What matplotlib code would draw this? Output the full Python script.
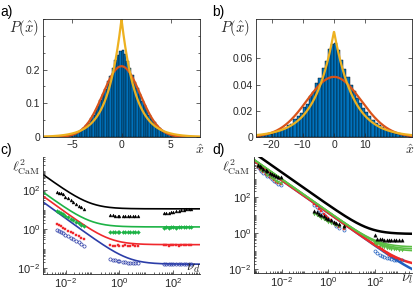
import matplotlib
matplotlib.use('Agg')
import matplotlib.pyplot as plt
import matplotlib.ticker as mticker
import numpy as np

plt.rcParams['font.family'] = ['Liberation Sans', 'DejaVu Sans']
plt.rcParams['mathtext.fontset'] = 'cm'

W, H = 415, 293

# a) histogram of x-hat, bin width 0.25, positive half (mirrored with small asymmetry)
hist_a_right = [0.258, 0.246, 0.226, 0.204, 0.184, 0.163, 0.146, 0.127, 0.108, 0.094, 0.079, 0.066,
                0.054, 0.044, 0.035, 0.028, 0.021, 0.016, 0.012, 0.009, 0.006, 0.004, 0.003, 0.002]
hist_a_left = [0.256, 0.243, 0.228, 0.206, 0.182, 0.166, 0.143, 0.129, 0.111, 0.092, 0.081, 0.064,
               0.056, 0.043, 0.036, 0.027, 0.022, 0.015, 0.012, 0.008, 0.006, 0.004, 0.002, 0.002]
sigma_a = 1.9     # gaussian fit
b_a = 1.43        # laplace fit

# b) histogram, bin width 1
hist_b_right = [0.072, 0.066, 0.059, 0.052, 0.046, 0.040, 0.035, 0.030, 0.026, 0.022, 0.019, 0.016,
                0.013, 0.011, 0.009, 0.0075, 0.006, 0.005, 0.004, 0.003, 0.0025, 0.002, 0.0015, 0.001, 0.0008]
hist_b_left = [0.071, 0.067, 0.058, 0.053, 0.045, 0.041, 0.034, 0.031, 0.025, 0.023, 0.018, 0.016,
               0.014, 0.010, 0.009, 0.007, 0.006, 0.005, 0.004, 0.003, 0.0025, 0.002, 0.0015, 0.001, 0.0008]
sigma_b = 8.7
b_b = 6.2

# c) l^2 vs nu_d, three clusters of points
nu_c = [0.0045, 0.0055, 0.0065, 0.008, 0.0095, 0.012, 0.015, 0.019, 0.024, 0.03, 0.038, 0.047,
        0.45, 0.55, 0.7, 0.85, 1.0, 1.3, 1.6, 2.0, 2.5, 3.1, 3.9, 4.8,
        45, 55, 70, 85, 100, 130, 160, 200, 250, 310, 390, 480]
c_black = [80, 74, 68, 60, 47, 38, 31, 25, 20, 16, 13, 11,
           5.5, 5.2, 5.0, 5.0, 4.8, 4.8, 4.9, 4.7, 4.8, 4.6, 4.7, 4.6,
           6.5, 6.8, 7.0, 7.5, 8.0, 8.5, 9.0, 9.5, 10, 10.5, 11, 11]
c_green = [9, 8, 7, 6, 5, 4.2, 3.5, 2.9, 2.4, 2.0, 1.7, 1.4,
           0.75, 0.72, 0.7, 0.72, 0.7, 0.7, 0.72, 0.7, 0.71, 0.7, 0.72, 0.7,
           1.2, 1.25, 1.2, 1.3, 1.25, 1.2, 1.3, 1.25, 1.3, 1.25, 1.3, 1.3]
c_red = [1.8, 1.6, 1.4, 1.2, 1.0, 0.85, 0.7, 0.6, 0.5, 0.42, 0.35, 0.3,
         0.15, 0.14, 0.14, 0.15, 0.14, 0.14, 0.15, 0.14, 0.14, 0.15, 0.14, 0.14,
         0.15, 0.15, 0.14, 0.15, 0.15, 0.15, 0.14, 0.15, 0.15, 0.15, 0.15, 0.15]
c_blue = [0.9, 0.8, 0.7, 0.6, 0.5, 0.42, 0.35, 0.3, 0.25, 0.21, 0.17, 0.14,
          0.028, 0.026, 0.025, 0.023, 0.022, 0.021, 0.02, 0.019, 0.019, 0.018, 0.018, 0.018,
          0.016, 0.016, 0.017, 0.016, 0.016, 0.016, 0.016, 0.017, 0.016, 0.016, 0.016, 0.016]
# fitted curves l^2 = A/nu + C
c_fit_A = {'black': 0.88, 'green': 0.11, 'red': 0.07, 'blue': 0.035}
c_fit_C = {'black': 11, 'green': 1.3, 'red': 0.16, 'blue': 0.016}

# d) l^2 vs nu_l
nu_d = [0.0009, 0.0011, 0.0013, 0.0016, 0.002, 0.0024, 0.003, 0.0037, 0.0045, 0.0056, 0.007, 0.009,
        0.25, 0.32, 0.4, 0.5, 0.65, 0.8, 1.0, 1.3, 1.7, 2.2, 3.0, 4.5,
        100, 125, 160, 200, 250, 320, 400, 500, 650, 850, 1100, 1500]
d_black = [5900, 5000, 4300, 3600, 3000, 2600, 2200, 1900, 1600, 1400, 1250, 1200,
           17, 14, 12, 10, 8.5, 7, 6, 5, 4.2, 3.6, 3.0, 2.6,
           0.75, 0.5, 0.45, 0.45, 0.42, 0.42, 0.41, 0.4, 0.4, 0.4, 0.4, 0.4]
d_red = [4500, 3600, 3000, 2400, 1900, 1600, 1300, 1050, 850, 700, 580, 490,
         40, 30, 22, 16, 12, 9, 7, 5, 3.8, 2.9, 2.2, 1.7,
         0.28, 0.22, 0.17, 0.13, 0.1, 0.08, 0.065, 0.055, 0.047, 0.04, 0.036, 0.035]
d_green = [5000, 4000, 3200, 2600, 2100, 1700, 1400, 1150, 950, 800, 650, 550,
           12, 10, 8.5, 7, 6, 5, 4.3, 3.7, 3.2, 2.8, 2.5, 2.3,
           0.3, 0.26, 0.22, 0.2, 0.18, 0.16, 0.15, 0.14, 0.13, 0.125, 0.12, 0.115]
d_blue = [4200, 3400, 2800, 2200, 1800, 1500, 1200, 1000, 800, 650, 540, 460,
          35, 26, 19, 14, 10, 8, 6, 4.5, 3.4, 2.6, 2.0, 1.5,
          0.1, 0.08, 0.065, 0.055, 0.048, 0.043, 0.04, 0.037, 0.035, 0.033, 0.032, 0.031]
d_fit_p = 0.9
d_fit_A = {'black': 35, 'green': 15, 'red': 13, 'blue': 13}
d_fit_C = {'black': 0.9, 'green': [0.1, 0.13, 0.17], 'red': 0.015, 'blue': 0.003}

blue_m = '#0072BD'
orange = '#D95319'
yellow = '#EDB120'
axcol = '#262626'


def px_axes(l, t, r, b):
    return fig.add_axes([l / W, 1 - b / H, (r - l) / W, (b - t) / H])


def ftext(x, y, s, **kw):
    fig.text(x / W, 1 - y / H, s, **kw)


def style(ax, fs):
    ax.tick_params(which='both', direction='in', color=axcol, labelcolor=axcol,
                   labelsize=fs, width=0.5, pad=2)
    ax.tick_params(which='major', length=3)
    ax.tick_params(which='minor', length=1.5)
    for s in ax.spines.values():
        s.set_color(axcol)
        s.set_linewidth(0.6)


fig = plt.figure(figsize=(W / 100, H / 100), dpi=100)

# ---- a)
ax = px_axes(43, 19, 200, 137)
na = len(hist_a_right)
xa = (np.arange(-na, na) + 0.5) * 0.25
ha = hist_a_left[::-1] + hist_a_right
ax.bar(xa, ha, width=0.25, color=blue_m, edgecolor='k', linewidth=0.3)
xx = np.linspace(-8, 8, 600)
ax.plot(xx, np.exp(-xx ** 2 / (2 * sigma_a ** 2)) / (sigma_a * np.sqrt(2 * np.pi)), color=orange, lw=1.6)
ax.plot(xx, np.exp(-np.abs(xx) / b_a) / (2 * b_a), color=yellow, lw=1.6)
ax.set_xlim(-8, 8)
ax.set_ylim(0, 0.35)
ax.set_xticks([-5, 0, 5])
ax.set_yticks([0, 0.1, 0.2])
ax.set_yticklabels(['0', '0.1', '0.2'])
ax.yaxis.set_minor_locator(mticker.MultipleLocator(0.05))
ax.tick_params(top=True, right=True, which='both')
style(ax, 7.5)
ftext(0, 12, 'a)', fontsize=10, va='center')
ftext(24, 28, r'$P(\hat{x})$', fontsize=10.5, ha='center', va='center', color=axcol)
ftext(200, 150, r'$\hat{x}$', fontsize=10, ha='center', va='center', color=axcol)

# ---- b)
ax = px_axes(256, 19, 412, 137)
nb = len(hist_b_right)
xb = np.arange(-nb, nb) + 0.5
hb = hist_b_left[::-1] + hist_b_right
ax.bar(xb, hb, width=1.0, color=blue_m, edgecolor='k', linewidth=0.3)
xx = np.linspace(-25, 25, 600)
ax.plot(xx, np.exp(-xx ** 2 / (2 * sigma_b ** 2)) / (sigma_b * np.sqrt(2 * np.pi)), color=orange, lw=1.6)
ax.plot(xx, np.exp(-np.abs(xx) / b_b) / (2 * b_b), color=yellow, lw=1.6)
ax.set_xlim(-25, 25)
ax.set_ylim(0, 0.09)
ax.set_xticks([-20, -10, 0, 10])
ax.set_yticks([0, 0.02, 0.04, 0.06])
ax.set_yticklabels(['0', '0.02', '0.04', '0.06'])
ax.tick_params(top=True, right=True)
style(ax, 7.5)
ftext(212, 12, 'b)', fontsize=10, va='center')
ftext(235, 28, r'$P(\hat{x})$', fontsize=10.5, ha='center', va='center', color=axcol)
ftext(410, 150, r'$\hat{x}$', fontsize=10, ha='center', va='center', color=axcol)


def loglog_style(ax):
    ax.set_xscale('log')
    ax.set_yscale('log')
    ax.xaxis.set_major_locator(mticker.FixedLocator([1e-2, 1, 1e2]))
    ax.yaxis.set_major_locator(mticker.FixedLocator([1e-2, 1, 1e2]))
    ax.xaxis.set_minor_locator(mticker.LogLocator(subs=np.arange(2, 10), numticks=30))
    ax.yaxis.set_minor_locator(mticker.LogLocator(subs=np.arange(1, 10), numticks=30))
    ax.xaxis.set_minor_formatter(mticker.NullFormatter())
    ax.yaxis.set_minor_formatter(mticker.NullFormatter())
    ax.spines['top'].set_visible(False)
    ax.spines['right'].set_visible(False)
    style(ax, 8)
    ax.tick_params(axis='x', pad=1.5)


# ---- c)
ax = px_axes(43, 157, 200, 274)
nn = np.logspace(-3, 3, 400)
ccols = {'black': 'k', 'green': '#1DB346', 'red': '#F0282D', 'blue': '#2B3DA8'}
for k in ['black', 'green', 'red', 'blue']:
    ax.plot(nn, c_fit_A[k] / nn + c_fit_C[k], color=ccols[k], lw=1.2)
ax.plot(nu_c, c_black, '^', color='k', ms=2.1, mew=0.3)
ax.plot(nu_c, c_green, 'D', color=ccols['green'], ms=1.9, mew=0.3)
ax.plot(nu_c, c_red, 's', color=ccols['red'], ms=1.9, mew=0.3)
ax.plot(nu_c, c_blue, 'o', mfc='none', mec=ccols['blue'], ms=2.3, mew=0.5)
ax.set_xlim(10 ** -2.85, 1e3)
ax.set_ylim(10 ** -2.3, 10 ** 3.7)
loglog_style(ax)
ftext(0, 150, 'c)', fontsize=10, va='center')
ftext(26, 167, r'$\ell^2_{\rm CaM}$', fontsize=10, ha='center', va='center', color=axcol)
ftext(193, 268, r'$\nu_d$', fontsize=10.5, ha='center', va='center', color=axcol)

# ---- d)
ax = px_axes(254, 157, 412, 273)
nn = np.logspace(-3.3, 3.7, 400)
dcols = {'black': 'k', 'green': '#5CBF45', 'red': '#EE2A2A', 'blue': '#2060C0'}
ax.plot(nn, d_fit_A['blue'] / nn ** d_fit_p + d_fit_C['blue'], color=dcols['blue'], lw=1.8)
ax.plot(nn, d_fit_A['red'] / nn ** d_fit_p + d_fit_C['red'], color=dcols['red'], lw=1.8)
ax.plot(nu_d, d_blue, 'o', mfc='none', mec=dcols['blue'], ms=2.2, mew=0.5)
ax.plot(nu_d, d_red, 's', color=dcols['red'], ms=2.0, mew=0.3)
for cg in d_fit_C['green']:
    ax.plot(nn, d_fit_A['green'] / nn ** d_fit_p + cg, color=dcols['green'], lw=1.2)
ax.plot(nu_d, d_green, 'v', color=dcols['green'], ms=2.2, mew=0.3)
ax.plot(nn, d_fit_A['black'] / nn ** d_fit_p + d_fit_C['black'], color='k', lw=1.8)
ax.plot(nu_d, d_black, '^', color='k', ms=2.4, mew=0.3)
ax.set_xlim(10 ** -3.2, 10 ** 3.6)
ax.set_ylim(10 ** -2.2, 10 ** 4.2)
loglog_style(ax)
ftext(212, 150, 'd)', fontsize=10, va='center')
ftext(236, 167, r'$\ell^2_{\rm CaM}$', fontsize=10, ha='center', va='center', color=axcol)
ftext(407, 279, r'$\nu_l$', fontsize=10.5, ha='center', va='center', color=axcol)

fig.savefig('out.png', dpi=100)
